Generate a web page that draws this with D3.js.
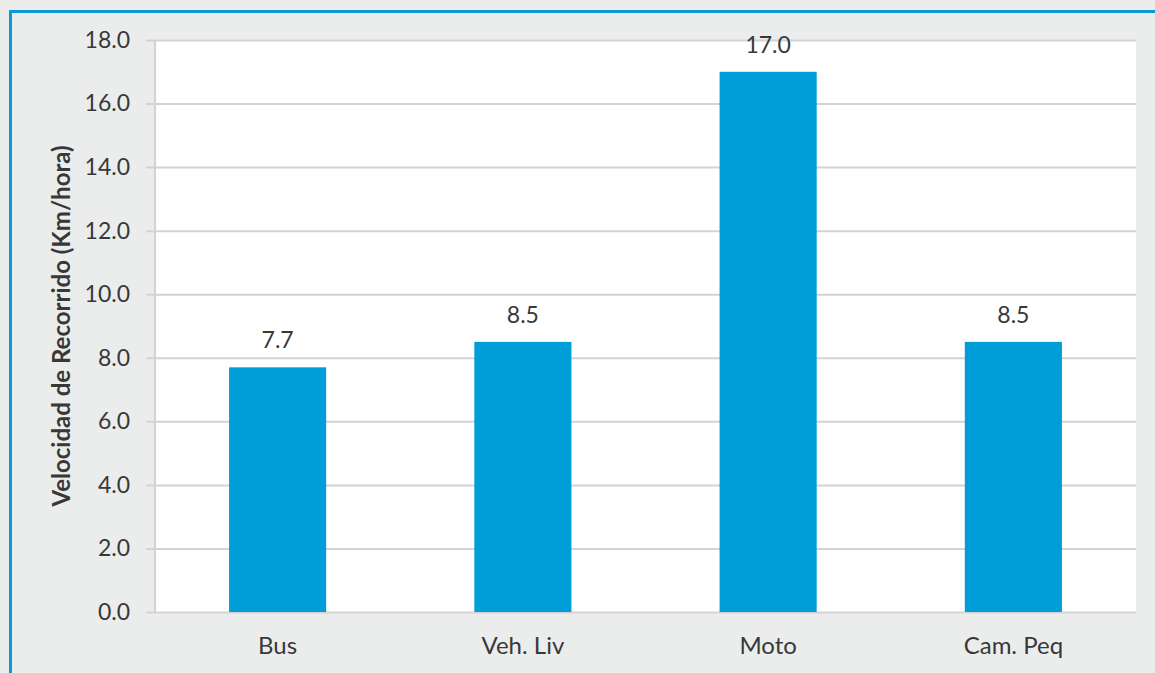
<!DOCTYPE html>
<html>
<head>
<meta charset="utf-8">
<script src="https://cdn.jsdelivr.net/npm/d3@7"></script>
<style>
  html, body { margin: 0; padding: 0; background: #ebeded; }
  svg { display: block; }
  text { font-family: Lato, "Open Sans", sans-serif; fill: #383838; }
</style>
</head>
<body>
<svg id="chart" width="1155" height="673"></svg>
<script>
// Velocidad de recorrido por tipo de vehículo
const categories = ["Bus", "Veh. Liv", "Moto", "Cam. Peq"];
const speeds = [7.7, 8.5, 17.0, 8.5];
const yTicks = [0, 2, 4, 6, 8, 10, 12, 14, 16, 18];
const yTitle = "Velocidad de Recorrido (Km/hora)";

const W = 1155, H = 673;
const plot = { left: 155, right: 1136, top: 40, bottom: 612 };

const svg = d3.select("#chart");

// panel background and blue frame edges
svg.append("rect").attr("x", 0).attr("y", 0).attr("width", W).attr("height", H).attr("fill", "#ebeded");
svg.append("rect").attr("x", 9).attr("y", 10).attr("width", W - 9).attr("height", 3).attr("fill", "#0a9ad8");
svg.append("rect").attr("x", 9).attr("y", 10).attr("width", 3).attr("height", H - 10).attr("fill", "#0a9ad8");

const x = d3.scaleBand()
  .domain(categories)
  .range([plot.left, plot.right])
  .paddingInner(0.604)
  .paddingOuter(0.302);

const y = d3.scaleLinear()
  .domain([0, 18])
  .range([plot.bottom, plot.top]);

// white plot area
svg.append("rect")
  .attr("x", plot.left).attr("y", plot.top)
  .attr("width", plot.right - plot.left).attr("height", plot.bottom - plot.top)
  .attr("fill", "#ffffff");

// horizontal gridlines, extended left as short ticks
const gy = svg.append("g")
  .attr("transform", `translate(${plot.right},0)`);
gy.call(d3.axisLeft(y).tickValues(yTicks).tickSize(plot.right - plot.left + 9).tickFormat(""));
gy.select(".domain").remove();
gy.selectAll(".tick line").attr("stroke", "#d3d3d3").attr("stroke-width", 2);

// vertical axis line
svg.append("line")
  .attr("x1", plot.left).attr("x2", plot.left)
  .attr("y1", plot.top).attr("y2", plot.bottom)
  .attr("stroke", "#d3d3d3").attr("stroke-width", 2);

// tick labels
const gl = svg.append("g").attr("transform", `translate(${plot.left},0)`);
gl.call(d3.axisLeft(y).tickValues(yTicks).tickSize(0).tickPadding(25).tickFormat(d3.format(".1f")));
gl.select(".domain").remove();
gl.selectAll(".tick text")
  .attr("font-size", 23)
  .attr("fill", "#383838")
  .style("font-family", "Lato, 'Open Sans', sans-serif");

// bars
svg.append("g").selectAll("rect")
  .data(categories)
  .join("rect")
  .attr("x", d => x(d))
  .attr("y", (d, i) => y(speeds[i]))
  .attr("width", x.bandwidth())
  .attr("height", (d, i) => y(0) - y(speeds[i]))
  .attr("fill", "#009ed9");

// value labels
svg.append("g").selectAll("text")
  .data(categories)
  .join("text")
  .attr("x", d => x(d) + x.bandwidth() / 2)
  .attr("y", (d, i) => y(speeds[i]) - 19)
  .attr("text-anchor", "middle")
  .attr("font-size", 23)
  .text((d, i) => speeds[i].toFixed(1));

// category labels
const gx = svg.append("g").attr("transform", `translate(0,${plot.bottom})`);
gx.call(d3.axisBottom(x).tickSize(0).tickPadding(0));
gx.select(".domain").remove();
gx.selectAll(".tick text")
  .attr("y", 42)
  .attr("dy", 0)
  .attr("font-size", 24)
  .attr("fill", "#383838")
  .style("font-family", "Lato, 'Open Sans', sans-serif");

// y axis title
svg.append("text")
  .attr("transform", "translate(70,326) rotate(-90)")
  .attr("text-anchor", "middle")
  .attr("font-size", 24)
  .attr("font-weight", "bold")
  .text(yTitle);
</script>
</body>
</html>
